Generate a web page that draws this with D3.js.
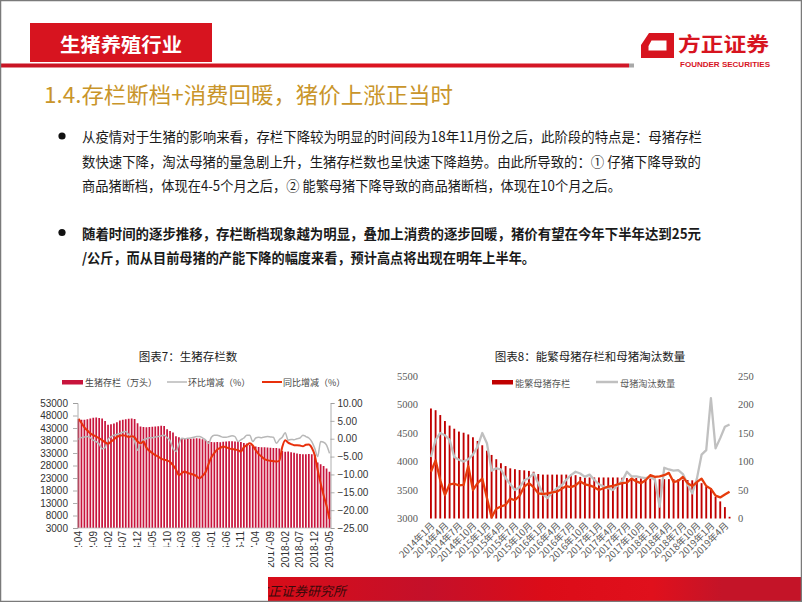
<!DOCTYPE html>
<html><head><meta charset="utf-8">
<script src="https://cdn.jsdelivr.net/npm/d3@7"></script>
<style>body{margin:0;background:#fff;}svg{display:block;}</style>
</head><body>
<svg id="c" width="802" height="602"></svg>
<script>
// ---------------- DATA ----------------
const headerLabel = "生猪养殖行业";
const slideTitle = "1.4.存栏断档+消费回暖，猪价上涨正当时";
const bullet1Lines = [
  "从疫情对于生猪的影响来看，存栏下降较为明显的时间段为18年11月份之后，此阶段的特点是：母猪存栏",
  "数快速下降，淘汰母猪的量急剧上升，生猪存栏数也呈快速下降趋势。由此所导致的：① 仔猪下降导致的",
  "商品猪断档，体现在4-5个月之后，② 能繁母猪下降导致的商品猪断档，体现在10个月之后。"
];
const bullet2Lines = [
  "随着时间的逐步推移，存栏断档现象越为明显，叠加上消费的逐步回暖，猪价有望在今年下半年达到25元",
  "/公斤，而从目前母猪的产能下降的幅度来看，预计高点将出现在明年上半年。"
];

// Chart 7: monthly 2012-04 .. 2019-05
const chart7Title = "图表7：生猪存栏数";
const chart7Legend = ["生猪存栏（万头）", "环比增减（%）", "同比增减（%）"];
const chart7Start = new Date(2012, 3, 1), chart7End = new Date(2019, 5, 1);
const hogStock = [46500,46300,46300,46500,46800,47100,47200,47000,46800,45800,
  44300,44500,44800,45300,46000,46300,46500,46700,46800,46600,
  44900,43600,43400,43300,43400,43500,43600,43700,43900,43800,
  42500,41800,41200,39700,39300,39000,38800,38600,38700,38800,
  38900,38800,38500,38200,37700,37400,37300,37400,37300,37500,
  37600,37700,37700,37600,37700,37400,37000,36800,36200,35800,
  35600,35400,35300,35300,35200,35100,35000,35000,34800,33800,
  33500,33600,33300,33100,32800,32600,32500,32500,32600,32500,
  32300,29200,28500,27800,26800,25500];
const hogMoM = [-0.2,0.3,0.5,0.6,0.3,-0.4,-0.8,-1.5,-2.8,-2.5,
  -0.2,0.5,1.0,1.2,1.5,1.8,2.0,1.2,0.6,-0.8,
  -3.2,-1.3,-0.3,0.0,0.3,0.3,0.5,0.6,0.8,1.0,
  0.3,-0.5,-2.7,-3.6,-1.5,0.1,0.0,0.1,0.2,0.4,
  0.6,0.6,0.2,-0.3,-1.3,0.4,1.0,1.0,0.7,0.4,
  0.4,0.6,0.8,0.6,-0.8,-0.3,0.2,1.0,1.0,-0.8,
  0.2,0.4,0.3,0.5,0.6,0.5,0.4,-1.3,-0.3,0.4,
  1.7,-0.4,-0.2,-0.3,0.0,0.2,1.0,0.6,0.2,-0.8,
  -2.7,-5.0,-0.8,-1.0,-1.8,-4.1];
const hogYoY = [5.6,4.4,3.2,2.3,1.5,1.0,0.6,0.1,-0.4,-1.0,
  -1.4,-0.8,-0.2,0.5,0.8,1.0,0.8,0.5,0.7,0.4,
  -0.8,-1.3,-0.8,-2.5,-3.4,-4.0,-4.6,-5.0,-5.6,-5.9,
  -6.1,-6.5,-7.4,-8.6,-10.2,-9.6,-9.2,-9.6,-9.8,-10.1,
  -10.5,-11.1,-10.4,-9.4,-7.2,-5.2,-4.0,-3.0,-2.6,-2.2,
  -2.4,-2.7,-2.9,-3.0,-3.2,-3.6,-2.4,-1.8,-1.3,-1.9,
  -3.2,-4.3,-5.0,-5.7,-6.0,-6.2,-6.3,-6.4,-6.2,-2.3,
  -0.4,-1.1,-1.5,-1.8,-1.8,-1.9,-2.1,-1.7,-1.6,-2.5,
  -4.6,-8.8,-12.5,-15.8,-18.8,-22.5];
const chart7LeftTicks = [3000,8000,13000,18000,23000,28000,33000,38000,43000,48000,53000];
const chart7RightTicks = [-25,-20,-15,-10,-5,0,5,10];

// Chart 8: monthly 2014-01 .. 2019-05
const chart8Title = "图表8：能繁母猪存栏和母猪淘汰数量";
const chart8Legend = ["能繁母猪存栏", "母猪淘汰数量"];
const chart8Start = new Date(2014, 0, 1), chart8End = new Date(2019, 5, 1);
const sowStock = [4930,4900,4815,4710,4630,4575,4525,4505,4475,4425,
  4360,4285,4190,4115,4040,3970,3920,3880,3865,3850,
  3845,3835,3820,3780,3770,3770,3770,3770,3770,3770,
  3770,3760,3730,3720,3720,3720,3720,3720,3720,3720,
  3720,3715,3710,3710,3710,3705,3700,3700,3700,3690,
  3690,3690,3690,3690,3680,3675,3670,3650,3620,3560,
  3530,3380,3300,3200,3030];
const sowCull = [108,138,150,146,138,108,103,100,104,112,
  126,150,132,84,88,86,71,60,50,55,
  67,71,79,62,42,36,46,53,58,68,
  76,82,79,73,77,68,60,56,53,50,
  58,66,82,74,74,72,71,73,68,21,
  89,86,84,85,78,60,44,70,112,120,
  211,123,141,161,165];
const orangeLine8 = [82,102,67,41,60,61,58,59,92,50,
  62,70,36,2,17,21,24,35,32,40,
  56,62,55,44,43,44,46,47,52,57,
  55,58,65,60,58,55,50,53,56,57,
  60,62,63,70,65,62,67,76,73,74,
  76,80,64,66,73,62,57,64,70,57,
  52,40,37,42,47];
const chart8LeftTicks = [3000,3500,4000,4500,5000,5500];
const chart8RightTicks = [0,50,100,150,200,250];
const footerSource = "方正证券研究所";

// ---------------- DRAW ----------------
const svg = d3.select("#c");
const CJK = "'Noto Sans CJK SC','Noto Sans',sans-serif";

// header box
svg.append("rect").attr("x",30).attr("y",23).attr("width",182).attr("height",39).attr("fill","#d7141f");
svg.append("text").attr("x",60).attr("y",43).attr("dominant-baseline","central")
  .attr("font-family",CJK).attr("font-weight","bold").attr("font-size",19).attr("fill","#fff")
  .attr("textLength",122).attr("lengthAdjust","spacingAndGlyphs").text(headerLabel);

// red line
const lg = svg.append("defs").append("linearGradient").attr("id","rl");
lg.append("stop").attr("offset","0%").attr("stop-color","#c81424");
lg.append("stop").attr("offset","60%").attr("stop-color","#dc1420");
lg.append("stop").attr("offset","100%").attr("stop-color","#d01828");
svg.append("rect").attr("x",0).attr("y",63.5).attr("width",629).attr("height",4).attr("fill","url(#rl)");
svg.append("rect").attr("x",629).attr("y",63.5).attr("width",5).attr("height",4).attr("fill","#a8a8a8");

// logo
svg.append("path").attr("fill","#d7141f").attr("fill-rule","evenodd")
  .attr("d","M649,33 L674,33 L674,58 L641,58 L641,45 Z M651.5,40.5 L666.5,40.5 L666.5,50.5 L648.5,50.5 L648.5,46 Z");
svg.append("text").attr("x",678).attr("y",43).attr("dominant-baseline","central")
  .attr("font-family",CJK).attr("font-weight","bold").attr("font-size",20).attr("fill","#d7141f")
  .attr("textLength",91).attr("lengthAdjust","spacingAndGlyphs").text("方正证券");
svg.append("text").attr("x",680).attr("y",64).attr("dominant-baseline","central")
  .attr("font-family","'Liberation Sans',Arial,sans-serif").attr("font-weight","bold").attr("font-size",7).attr("fill","#d7141f")
  .attr("textLength",90).attr("lengthAdjust","spacingAndGlyphs").text("FOUNDER SECURITIES");

// slide title
svg.append("text").attr("x",44).attr("y",93).attr("dominant-baseline","central")
  .attr("font-family",CJK).attr("font-size",22).attr("fill","#c9952a")
  .attr("textLength",409).attr("lengthAdjust","spacingAndGlyphs").text(slideTitle);

// bullets
const b1y = [136,161,185], b1w = [620,619,539];
const b2y = [232.5,256.5], b2w = [619,453];
[[bullet1Lines,b1y,b1w,"normal"],[bullet2Lines,b2y,b2w,"bold"]].forEach(([lines,ys,ws,wt])=>{
  svg.append("circle").attr("cx",62).attr("cy",ys[0]).attr("r",3.6).attr("fill","#111");
  lines.forEach((t,i)=>{
    svg.append("text").attr("x",82).attr("y",ys[i]).attr("dominant-baseline","central")
      .attr("font-family",CJK).attr("font-size",14).attr("font-weight",wt).attr("fill","#1a1a1a")
      .attr("textLength",ws[i]).attr("lengthAdjust","spacingAndGlyphs").text(t);
  });
});

// ---------- Chart 7 ----------
const months7 = d3.timeMonth.range(chart7Start, chart7End);
const fmt7 = d3.timeFormat("%Y-%m");
const x7 = d3.scaleBand().domain(months7.map(fmt7)).range([77.5,330.5]).paddingInner(0.42).paddingOuter(0.05);
const yL7 = d3.scaleLinear().domain([3000,53000]).range([528,403]);
const yR7 = d3.scaleLinear().domain([-25,10]).range([528,403]);
const c7 = svg.append("g");
c7.append("text").attr("x",188).attr("y",356).attr("text-anchor","middle").attr("dominant-baseline","central")
  .attr("font-family",CJK).attr("font-size",11.5).attr("fill","#222").text(chart7Title);
// legend
c7.append("rect").attr("x",62).attr("y",380).attr("width",21).attr("height",4.5).attr("fill","#c8143c");
c7.append("line").attr("x1",167).attr("x2",187).attr("y1",382).attr("y2",382).attr("stroke","#b8b8b8").attr("stroke-width",1.5);
c7.append("line").attr("x1",262).attr("x2",282).attr("y1",382).attr("y2",382).attr("stroke","#e8300c").attr("stroke-width",2);
[[85,chart7Legend[0]],[188,chart7Legend[1]],[283,chart7Legend[2]]].forEach(([x,t])=>{
  c7.append("text").attr("x",x).attr("y",382.5).attr("dominant-baseline","central")
    .attr("font-family",CJK).attr("font-size",9).attr("fill","#444").text(t);
});
// bars
c7.selectAll("rect.b7").data(hogStock).join("rect").attr("class","b7")
  .attr("x",(d,i)=>x7(fmt7(months7[i]))).attr("width",x7.bandwidth())
  .attr("y",d=>yL7(d)).attr("height",d=>528-yL7(d)).attr("fill","#c8143c");
// lines
const cx7 = i => x7(fmt7(months7[i])) + x7.bandwidth()/2;
c7.append("path").datum(hogMoM).attr("fill","none").attr("stroke","#b8b8b8").attr("stroke-width",1.5)
  .attr("d",d3.line().x((d,i)=>cx7(i)).y(d=>yR7(d)).curve(d3.curveMonotoneX));
c7.append("path").datum(hogYoY).attr("fill","none").attr("stroke","#e8300c").attr("stroke-width",2)
  .attr("d",d3.line().x((d,i)=>cx7(i)).y(d=>yR7(d)).curve(d3.curveMonotoneX));
// axes
const axL7 = c7.append("g").attr("transform","translate(77.5,0)")
  .call(d3.axisLeft(yL7).tickValues(chart7LeftTicks).tickSize(4.5).tickPadding(5).tickFormat(d3.format("d")));
const axR7 = c7.append("g").attr("transform","translate(330.5,0)")
  .call(d3.axisRight(yR7).tickValues(chart7RightTicks).tickSize(4).tickPadding(3).tickFormat(d3.format(".2f")));
c7.append("line").attr("x1",77.5).attr("x2",330.5).attr("y1",528).attr("y2",528).attr("stroke","#bbb").attr("stroke-width",0.8);
[axL7,axR7].forEach(a=>{
  a.selectAll("path,line").attr("stroke","#999").attr("stroke-width",0.8);
  a.selectAll("text").attr("font-family","'Liberation Sans',Arial,sans-serif").attr("font-size",10).attr("fill","#333");
});
// x labels
const ticks7 = months7.map(fmt7).filter((d,i)=>i%5===0);
c7.selectAll("text.xl7").data(ticks7).join("text").attr("class","xl7")
  .attr("transform",d=>`translate(${x7(d)+x7.bandwidth()/2},531) rotate(-90)`)
  .attr("text-anchor","end").attr("dy","0.35em")
  .attr("font-family","'Liberation Sans',Arial,sans-serif").attr("font-size",10).attr("fill","#333").text(d=>d);

// ---------- Chart 8 ----------
const months8 = d3.timeMonth.range(chart8Start, chart8End);
const key8 = d3.timeFormat("%Y-%m");
const lab8 = d => { const dt = d3.timeParse("%Y-%m")(d); return dt.getFullYear()+"年"+(dt.getMonth()+1)+"月"; };
const x8 = d3.scaleBand().domain(months8.map(key8)).range([430,730.5]).paddingInner(0.6).paddingOuter(0);
const yL8 = d3.scaleLinear().domain([3000,5500]).range([518.5,376]).clamp(true);
const yR8 = d3.scaleLinear().domain([0,250]).range([518.5,376]);
const c8 = svg.append("g");
c8.append("text").attr("x",590).attr("y",355.5).attr("text-anchor","middle").attr("dominant-baseline","central")
  .attr("font-family",CJK).attr("font-size",11.5).attr("fill","#222").text(chart8Title);
c8.append("rect").attr("x",492).attr("y",380).attr("width",21).attr("height",4.5).attr("fill","#c00000");
c8.append("line").attr("x1",596).attr("x2",618).attr("y1",382).attr("y2",382).attr("stroke","#c0c0c0").attr("stroke-width",2.5);
[[515,chart8Legend[0]],[620,chart8Legend[1]]].forEach(([x,t])=>{
  c8.append("text").attr("x",x).attr("y",382.5).attr("dominant-baseline","central")
    .attr("font-family",CJK).attr("font-size",9.2).attr("fill","#595959").text(t);
});
c8.selectAll("rect.b8").data(sowStock).join("rect").attr("class","b8")
  .attr("x",(d,i)=>x8(key8(months8[i]))).attr("width",x8.bandwidth())
  .attr("y",d=>yL8(d)).attr("height",d=>518.5-yL8(d)).attr("fill","#c00000");
const cx8 = i => x8(key8(months8[i])) + x8.bandwidth()/2;
c8.append("path").datum(sowCull).attr("fill","none").attr("stroke","#c0c0c0").attr("stroke-width",2.3)
  .attr("stroke-linejoin","round").attr("d",d3.line().x((d,i)=>cx8(i)).y(d=>yR8(d)));
c8.append("path").datum(orangeLine8).attr("fill","none").attr("stroke","#e63c0c").attr("stroke-width",2.3)
  .attr("stroke-linejoin","round").attr("d",d3.line().x((d,i)=>cx8(i)).y(d=>yR8(d)));
const axL8 = c8.append("g").attr("transform","translate(428,0)")
  .call(d3.axisLeft(yL8).tickValues(chart8LeftTicks).tickSize(0).tickPadding(10).tickFormat(d3.format("d")));
const axR8 = c8.append("g").attr("transform","translate(731,0)")
  .call(d3.axisRight(yR8).tickValues(chart8RightTicks).tickSize(0).tickPadding(7).tickFormat(d3.format("d")));
[axL8,axR8].forEach(a=>{
  a.select("path.domain").remove();
  a.selectAll("text").attr("font-family","'Liberation Serif','DejaVu Serif',serif").attr("font-size",10.5).attr("fill","#595959");
});
const ticks8 = months8.map(key8).filter((d,i)=>i%3===0);
c8.selectAll("text.xl8").data(ticks8).join("text").attr("class","xl8")
  .attr("transform",d=>`translate(${x8(d)+x8.bandwidth()/2+2},524) rotate(-45)`)
  .attr("text-anchor","end").attr("dy","0.35em")
  .attr("font-family",CJK).attr("font-size",9.5).attr("fill","#595959").text(d=>lab8(d));

// ---------- footer ----------
const fg = svg.select("defs").append("linearGradient").attr("id","fg");
[["0%","#d80c18"],["30%","#c4102a"],["52%","#dc0c18"],["72%","#e0101c"],["85%","#c41428"],["100%","#c41428"]]
  .forEach(([o,c])=>fg.append("stop").attr("offset",o).attr("stop-color",c));
svg.append("rect").attr("x",268).attr("y",577).attr("width",534).attr("height",25).attr("fill","url(#fg)");
svg.append("text").attr("x",255).attr("y",590).attr("dominant-baseline","central")
  .attr("font-family",CJK).attr("font-style","italic").attr("font-size",13).attr("fill","#3a0a0a").text(footerSource);
// white cover (as in reference)
svg.append("rect").attr("x",0).attr("y",547).attr("width",268).attr("height",55).attr("fill","#fff");
// frame
svg.append("rect").attr("x",0.5).attr("y",0.5).attr("width",801).attr("height",601).attr("fill","none").attr("stroke","#7a7a7a").attr("stroke-width",1.5);
</script>
</body></html>
